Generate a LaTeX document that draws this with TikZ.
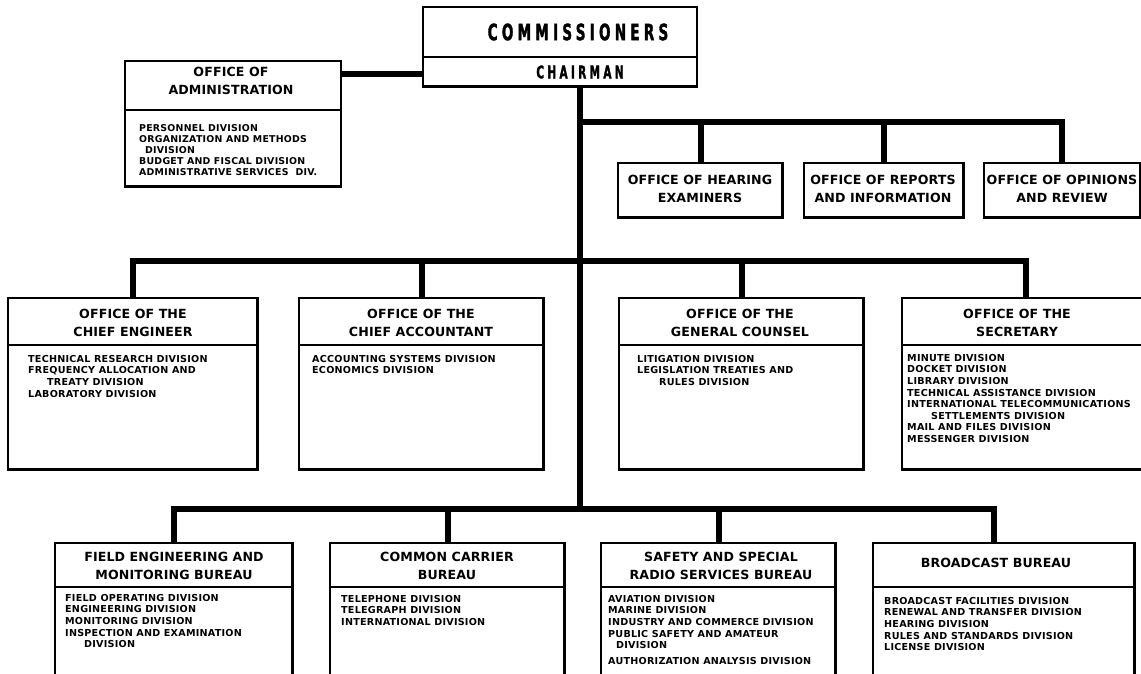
\documentclass[tikz,border=0pt]{standalone}
\usepackage{fontspec}
\setmainfont{DejaVu Sans}
\newfontfamily\headfont{DejaVu Sans}[FakeStretch=0.6, LetterSpace=19, FakeBold=1.5]
\newfontfamily\titlefont{DejaVu Sans}[LetterSpace=1]
\newfontfamily\listfont{DejaVu Sans}[LetterSpace=2.5]
\begin{document}
\begin{tikzpicture}[x=1pt,y=-1pt,
  box/.style={draw, line width=1.5pt, inner sep=0pt, outer sep=0pt, anchor=north west},
  conn/.style={line width=6pt},
  rule/.style={line width=1.3pt},
  edge/.style={line width=3pt},
  title/.style={font=\titlefont\bfseries\fontsize{12.6}{18}\selectfont, align=center, inner sep=0pt},
  list/.style={font=\listfont\bfseries\fontsize{9.6}{11.6}\selectfont, align=left, inner sep=0pt, anchor=north west},
  head/.style={inner sep=0pt, font=\headfont\bfseries\fontsize{#1}{#1}\selectfont},
]
\useasboundingbox (0,0) rectangle (1141,673);
\clip (0,0) rectangle (1141,673);

% ---------- boxes ----------
\node[box, minimum width=274pt, minimum height=80pt]  (comm) at (423,7)   {};
\node[box, minimum width=216pt, minimum height=126pt] (admin) at (125,61) {};

\node[box, minimum width=165pt, minimum height=55pt] (hear) at (618,163) {};
\node[box, minimum width=160pt, minimum height=55pt] (rep)  at (804,163) {};
\node[box, minimum width=156pt, minimum height=55pt] (opin) at (984,163) {};

\node[box, minimum width=250pt, minimum height=172pt] (eng)  at (8,298)   {};
\node[box, minimum width=245pt, minimum height=172pt] (acct) at (299,298) {};
\node[box, minimum width=245pt, minimum height=172pt] (coun) at (619,298) {};
\node[box, minimum width=248pt, minimum height=172pt] (sec)  at (902,298) {};

\node[box, minimum width=238pt, minimum height=147pt] (field)   at (55,543)  {};
\node[box, minimum width=235pt, minimum height=147pt] (carrier) at (330,543) {};
\node[box, minimum width=235pt, minimum height=147pt] (safety)  at (601,543) {};
\node[box, minimum width=262pt, minimum height=147pt] (broad)   at (873,543) {};

% heavier lower and right edges
\foreach \n in {comm,admin,hear,rep,opin,eng,acct,coun,sec}
  \draw[edge] ([yshift=1pt]\n.south west) -- ([yshift=1pt]\n.south east);
\foreach \n in {hear,rep,eng,acct,coun,field,carrier,safety,broad}
  \draw[edge] ([xshift=-0.75pt]\n.north east) -- ([xshift=-0.75pt]\n.south east);

% ---------- dividers ----------
\draw[rule] (comm.west |- 0,57) -- (comm.east |- 0,57);
\draw[rule] (admin.west |- 0,110) -- (admin.east |- 0,110);
\foreach \n in {eng,acct,coun,sec}
  \draw[rule] (\n.west |- 0,345) -- (\n.east |- 0,345);
\foreach \n in {field,carrier,safety,broad}
  \draw[rule] (\n.west |- 0,587) -- (\n.east |- 0,587);

% ---------- connectors ----------
\coordinate (j1) at (580,122);
\coordinate (j2) at (580,261);
\coordinate (j3) at (580,509);
\coordinate (bcin) at (994,543);

\draw[conn] (admin.east |- 0,74) -- (comm.west |- 0,74);
\draw[conn] (comm.south -| j3) -- (j3);

\draw[conn] (j1) -| (opin.north);
\draw[conn] (hear.north) -- (hear.north |- j1);
\draw[conn] (rep.north) -- (rep.north |- j1);

\draw[conn] (eng.north) |- (j2) -| (sec.north);
\draw[conn] (acct.north) -- (acct.north |- j2);
\draw[conn] (coun.north) -- (coun.north |- j2);

\draw[conn] (field.north) |- (j3) -| (bcin);
\draw[conn] (carrier.north) -- (carrier.north |- j3);
\draw[conn] (safety.north) -- (safety.north |- j3);

% ---------- titles ----------
\node[head=22.5] (commt) at (578,32) {COMMISSIONERS};
\node[head=17.5] (chair) at (580,72) {CHAIRMAN};

\node[title] (admint) at (231,81) {OFFICE OF\\ADMINISTRATION};
\node[title] (heart)  at (700,189) {OFFICE OF HEARING\\EXAMINERS};
\node[title] (rept)   at (883,189) {OFFICE OF REPORTS\\AND INFORMATION};
\node[title] (opint)  at (1062,189) {OFFICE OF OPINIONS\\AND REVIEW};

\node[title] (engt)  at (133,323) {OFFICE OF THE\\CHIEF ENGINEER};
\node[title] (acctt) at (421,323) {OFFICE OF THE\\CHIEF ACCOUNTANT};
\node[title] (count) at (740,323) {OFFICE OF THE\\GENERAL COUNSEL};
\node[title] (sect)  at (1017,323) {OFFICE OF THE\\SECRETARY};

\node[title] (fieldt)   at (174,566) {FIELD ENGINEERING AND\\MONITORING BUREAU};
\node[title] (carriert) at (447,566) {COMMON CARRIER\\BUREAU};
\node[title] (safetyt)  at (721,566) {SAFETY AND SPECIAL\\RADIO SERVICES BUREAU};
\node[title] (broadt)   at (996,563) {BROADCAST BUREAU};

% ---------- division lists ----------
\node[list, font=\listfont\bfseries\fontsize{9.4}{11}\selectfont] (adminl) at (139,124)
  {PERSONNEL DIVISION\\ORGANIZATION AND METHODS\\\hspace*{6pt}DIVISION\\BUDGET AND FISCAL DIVISION\\ADMINISTRATIVE SERVICES\ \ DIV.};

\node[list] (engl) at (28,355)
  {TECHNICAL RESEARCH DIVISION\\FREQUENCY ALLOCATION AND\\\hspace*{19pt}TREATY DIVISION\\LABORATORY DIVISION};
\node[list] (acctl) at (312,355)
  {ACCOUNTING SYSTEMS DIVISION\\ECONOMICS DIVISION};
\node[list] (counl) at (637,355)
  {LITIGATION DIVISION\\LEGISLATION TREATIES AND\\\hspace*{22pt}RULES DIVISION};
\node[list] (secl) at (907,354)
  {MINUTE DIVISION\\DOCKET DIVISION\\LIBRARY DIVISION\\TECHNICAL ASSISTANCE DIVISION\\INTERNATIONAL TELECOMMUNICATIONS\\\hspace*{24pt}SETTLEMENTS DIVISION\\MAIL AND FILES DIVISION\\MESSENGER DIVISION};

\node[list] (fieldl) at (65,594)
  {FIELD OPERATING DIVISION\\ENGINEERING DIVISION\\MONITORING DIVISION\\INSPECTION AND EXAMINATION\\\hspace*{19pt}DIVISION};
\node[list] (carrierl) at (341,595)
  {TELEPHONE DIVISION\\TELEGRAPH DIVISION\\INTERNATIONAL DIVISION};
\node[list] (safetyl) at (608,595)
  {AVIATION DIVISION\\MARINE DIVISION\\INDUSTRY AND COMMERCE DIVISION\\PUBLIC SAFETY AND AMATEUR\\\hspace*{8pt}DIVISION\\[4pt]AUTHORIZATION ANALYSIS DIVISION};
\node[list] (broadl) at (884,597)
  {BROADCAST FACILITIES DIVISION\\RENEWAL AND TRANSFER DIVISION\\HEARING DIVISION\\RULES AND STANDARDS DIVISION\\LICENSE DIVISION};
\end{tikzpicture}
\end{document}
